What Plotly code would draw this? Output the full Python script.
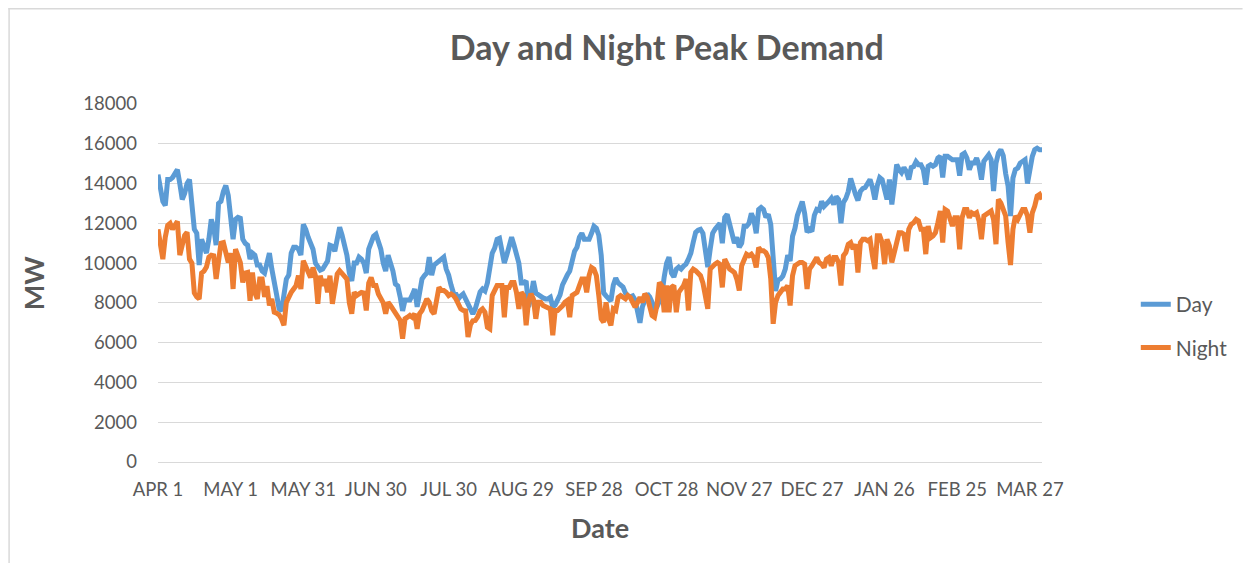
import plotly.graph_objects as go

# Daily peak demand (MW), day index 0 = APR 1 ... 365 = MAR 31
day_mw = [
    14450,13800,13100,12900,14200,14200,14300,14500,14700,14000,
    13200,13500,14000,14200,13000,11700,11500,9900,11200,10800,
    10500,11200,12200,11800,10900,13000,13100,13600,13900,13400,
    12400,11200,12200,12300,12250,11200,11000,10900,10200,10500,
    10400,9900,9900,9600,9500,10000,10500,9700,8850,8400,
    7700,7600,8400,9200,9400,10500,10800,10800,10700,10400,
    11950,11700,11300,10900,10700,10000,9800,9650,9700,9900,
    10100,10900,10850,10600,11200,11800,11400,10900,10400,9500,
    9100,10000,10000,10300,10200,10000,9500,10700,11100,11350,
    11450,11100,10700,10000,9600,10400,10000,9600,8950,8850,
    8300,7600,8150,8150,8150,8400,8700,7800,8600,9200,
    9370,9500,10300,9400,9900,10000,10100,10200,10300,9700,
    9400,8900,8500,8450,8200,8350,8450,8200,7900,7700,
    7450,7700,8100,8550,8700,8600,9000,9900,10500,10750,
    11200,11250,10700,10000,10400,11000,11300,10900,10500,10000,
    9000,9000,9100,7800,8300,9100,8500,8400,8300,8250,
    8200,8200,8280,7800,7900,8200,8400,8900,9200,9400,
    9600,10200,10600,10800,11300,11500,11200,11200,11200,11500,
    11850,11750,11400,10400,8500,8350,8200,8100,8900,9250,
    9000,8900,8800,8500,8350,8300,8350,8150,7400,7000,
    7800,8100,8450,8300,8000,7750,7800,8050,8350,9300,
    10000,10300,9500,9300,9700,9800,9700,9850,9950,10200,
    10500,11050,11550,11650,11700,11500,10600,9800,10700,11500,
    11700,11850,12000,11000,12300,12450,11900,11500,11000,11300,
    10800,11000,11850,11850,12000,12500,12200,11500,12700,12800,
    12700,12300,12450,11950,10500,8600,9150,9200,9350,9700,
    10400,10100,11350,11750,12400,12700,13100,12500,11550,11700,
    11600,12400,12700,12650,13100,12850,12950,13100,13250,12950,
    13350,13200,12000,13050,13250,13600,14250,13800,13450,13150,
    13600,13750,13800,14000,14200,13800,13200,13900,14300,14200,
    13800,13200,14200,12950,13900,14950,14700,14550,14800,14600,
    14200,14800,14850,15100,14950,14950,14700,13950,14870,14950,
    14870,14950,15280,15370,14300,15370,15370,15280,15200,15200,
    15200,14400,15450,15530,15280,14700,15030,15030,15280,14900,
    14200,15120,15280,15450,15200,13620,15030,15530,15700,15400,
    14500,13870,12370,14280,14700,14780,15030,15100,15200,14000,
    14870,15370,15700,15780,15700,15700,
]

night_mw = [
    11700,11000,10200,11300,11900,12000,11700,11900,12100,10400,
    11000,11400,11550,10200,10000,8500,8300,8200,9500,9600,
    9800,10300,10400,10370,9200,10300,11000,11030,10500,10030,
    10500,8700,10700,10300,10030,9030,9500,9530,8100,9530,
    8500,8200,9200,9200,8300,8850,7870,8200,7530,7480,
    7400,7200,6870,8030,8370,8530,8700,8870,9370,8700,
    10120,9800,9530,9280,9780,9370,7950,9370,8870,9200,
    8530,9370,7950,8900,9450,9620,9450,9370,9200,8000,
    7450,8530,8370,8450,8530,8500,7620,9000,9280,8870,
    8870,8450,8200,8000,7450,8030,7870,7700,7530,7370,
    7120,6200,7200,7280,7370,7280,7450,6700,7450,7620,
    7950,8200,8030,7600,7450,8030,8780,8620,8620,8530,
    8370,8450,8370,8200,7950,7700,7620,7600,6280,6900,
    7100,7120,7300,7600,7700,7530,6780,6700,8370,8700,
    8870,8870,8870,7280,8780,8780,9030,9030,8530,7700,
    8530,8370,6870,8100,8450,8200,7200,8030,8030,7870,
    7800,7700,7700,6370,7620,7620,7700,7850,8030,8120,
    7280,8370,8450,8530,8870,9200,9200,8530,9370,9780,
    9700,9370,8370,7200,7030,8030,7200,6870,7700,7620,
    8280,8370,8280,8200,8370,8280,8030,7780,8030,8280,
    8030,8450,8300,7870,7370,7280,7870,9030,8870,7530,
    8870,7530,8780,8870,7530,8530,8700,8870,9200,7620,
    9530,9700,9620,9530,9370,9000,8200,7700,9700,9870,
    9950,10030,9950,8780,10200,9950,9700,9620,9530,9200,
    8620,9870,10200,10450,10370,10450,10280,9780,10780,10620,
    10620,10530,10280,9200,6950,8030,8370,8530,8700,8700,
    8870,7870,9370,9870,9950,10030,10030,9950,8700,9700,
    9870,10030,10280,10030,9950,9780,10200,10280,9870,10280,
    10280,10030,8870,10370,10530,10950,11030,10700,10950,9530,
    11030,11200,11200,11120,11200,10370,9700,11370,11370,11030,
    9950,11200,10870,10030,10700,11030,11530,11530,11450,10600,
    11700,11950,12030,12200,12120,11700,11700,10450,11870,11280,
    11370,11530,12030,12620,11030,12700,12620,12200,11870,12280,
    12280,10700,12280,12700,12700,12280,12530,12450,12530,12120,
    11200,12370,12450,12530,12620,12200,10950,13200,13030,12700,
    12370,11030,9900,11700,12370,12200,12530,12700,12700,12370,
    11530,12530,12870,13370,13450,13200,
]

day_index = list(range(len(day_mw)))
tick_days = [0, 30, 60, 90, 120, 150, 180, 210, 240, 270, 300, 330, 360]
tick_labels = ["APR 1", "MAY 1", "MAY 31", "JUN 30", "JUL 30", "AUG 29", "SEP 28",
               "OCT 28", "NOV 27", "DEC 27", "JAN 26", "FEB 25", "MAR 27"]
y_ticks = list(range(0, 18001, 2000))
y_tick_labels = [str(v) for v in y_ticks]

FONT = "Lato, 'Open Sans', sans-serif"
GREY = "#595959"

fig = go.Figure()
fig.add_trace(go.Scatter(x=day_index, y=day_mw, mode="lines", name="Day",
                         legendgroup="d",
                         line=dict(color="#5B9BD5", width=5)))
fig.add_trace(go.Scatter(x=day_index, y=night_mw, mode="lines", name="Night",
                         legendgroup="n",
                         line=dict(color="#ED7D31", width=5)))

# page has an 8px body margin; work in reference (page) pixel coordinates
OFF = 8
W, H = 1253 - 2 * OFF, 571 - 2 * OFF
L = 158 - OFF
R = W - (1044 - OFF)
T = 104 - OFF
B = H - (462 - OFF)
pw, ph = W - L - R, H - T - B

def px_x(px):
    return (px - OFF - L) / pw

def px_y(py):
    return (H - B - (py - OFF)) / ph

fig.update_layout(
    width=W, height=H,
    margin=dict(l=L, r=R, t=T, b=B),
    paper_bgcolor="white", plot_bgcolor="white",
    font=dict(family=FONT, color=GREY, size=18),
    title=dict(text="<b>Day and Night Peak Demand</b>",
               font=dict(family=FONT, size=34, color=GREY),
               x=px_x(668), xref="paper", xanchor="center",
               y=1 - (48 - OFF) / H, yref="container", yanchor="middle"),
    xaxis=dict(range=[0, 365], tickmode="array", tickvals=tick_days,
               ticktext=tick_labels, showgrid=False, zeroline=False,
               showline=True, linecolor="#d9d9d9", linewidth=1,
               ticks="", ticklabelstandoff=11,
               tickfont=dict(family=FONT, size=18.5, color=GREY)),
    yaxis=dict(range=[0, 18000], tickmode="array", tickvals=y_ticks,
               ticktext=y_tick_labels,
               showgrid=True, gridcolor="#d9d9d9", gridwidth=1,
               zeroline=False, showline=False, ticks="",
               ticklabelstandoff=20,
               tickfont=dict(family=FONT, size=18.5, color=GREY)),
    legend=dict(x=px_x(1138), xanchor="left", y=px_y(284), yanchor="top",
                font=dict(family=FONT, size=21, color=GREY),
                tracegroupgap=13, bgcolor="rgba(0,0,0,0)"),
    showlegend=True,
    annotations=[
        dict(text="<b>MW</b>", x=px_x(33), y=0.5, xref="paper", yref="paper",
             textangle=-90, showarrow=False, xanchor="center", yanchor="middle",
             font=dict(family=FONT, size=27, color=GREY)),
        dict(text="<b>Date</b>", x=px_x(601), y=px_y(527), xref="paper", yref="paper",
             showarrow=False, xanchor="center", yanchor="middle",
             font=dict(family=FONT, size=27, color=GREY)),
    ],
    shapes=[
        dict(type="line", xref="paper", yref="paper",
             x0=px_x(OFF + 0.75), x1=px_x(OFF + 0.75), y0=px_y(OFF), y1=px_y(OFF + H),
             line=dict(color="#d9d9d9", width=1.5)),
        dict(type="line", xref="paper", yref="paper",
             x0=px_x(OFF), x1=px_x(OFF + W), y0=px_y(OFF + 0.75), y1=px_y(OFF + 0.75),
             line=dict(color="#d9d9d9", width=1.5)),
    ],
)

fig.write_html("out.html")
